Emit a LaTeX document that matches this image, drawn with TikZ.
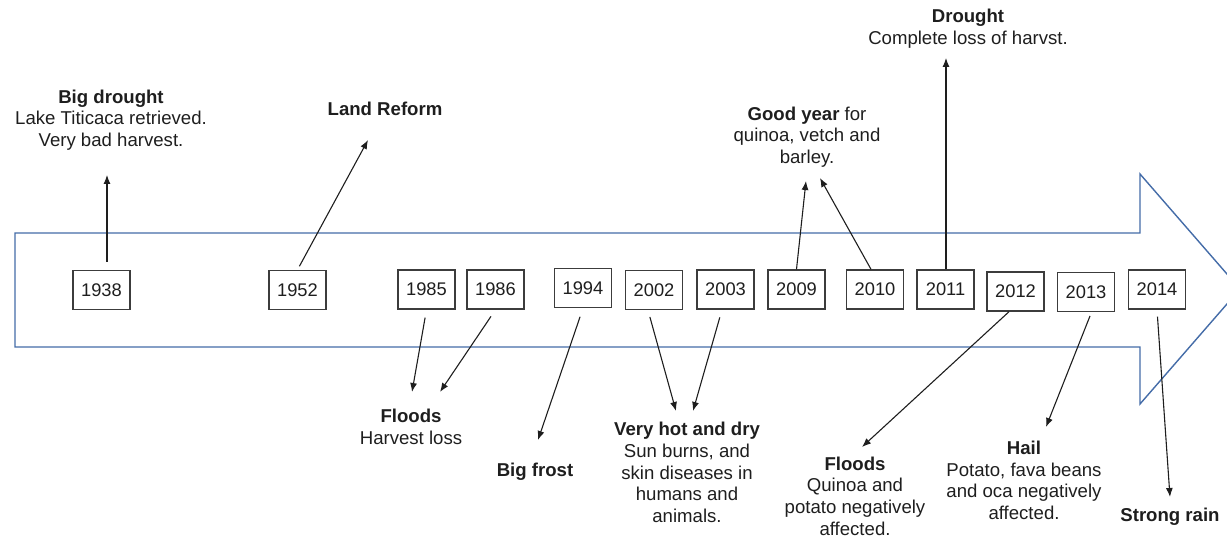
\documentclass[tikz,border=0pt]{standalone}
\usepackage{fontspec}
\setmainfont{Liberation Sans}
\usetikzlibrary{arrows.meta,calc}
\definecolor{tlblue}{RGB}{68,108,168}
\definecolor{ink}{RGB}{30,30,30}
\definecolor{boxline}{RGB}{60,60,60}
\begin{document}
\begin{tikzpicture}[x=1pt,y=-1pt,
  every node/.style={font=\fontsize{18.6}{21.7}\selectfont, text=ink, inner sep=0pt},
  yearbox/.style={draw=boxline, line width=1.4pt, minimum width=57pt, minimum height=39pt, font=\fontsize{18.3}{20}\selectfont},
  label/.style={align=center},
  conn/.style={draw=ink, line width=1.1pt, -{Latex[length=9pt,width=7pt]}},
  bigarrow/.style={draw=tlblue, line width=1.4pt, line join=miter}
]
\useasboundingbox (0,0) rectangle (1227,537);
\clip (0,0) rectangle (1227,537);
% big timeline arrow
\draw[bigarrow] (15,233) -- (1140,233) -- (1140,174) -- (1240,289) -- (1140,404) -- (1140,347) -- (15,347) -- cycle;

% year boxes
\node[yearbox] (y1938) at (101.5,290) {1938};
\node[yearbox] (y1952) at (297.5,290) {1952};
\node[yearbox] (y1985) at (426.5,289.5) {1985};
\node[yearbox] (y1986) at (495.5,289.5) {1986};
\node[yearbox] (y1994) at (583,288) {1994};
\node[yearbox] (y2002) at (654,290) {2002};
\node[yearbox] (y2003) at (725.5,289.5) {2003};
\node[yearbox] (y2009) at (796.5,289.5) {2009};
\node[yearbox] (y2010) at (875,289.5) {2010};
\node[yearbox] (y2011) at (945.5,289.5) {2011};
\node[yearbox] (y2012) at (1015.5,291.5) {2012};
\node[yearbox] (y2013) at (1086,292) {2013};
\node[yearbox] (y2014) at (1157,289.5) {2014};

% labels
\node[label] (bigdrought) at (111,120) {\textbf{Big drought}\\Lake Titicaca retrieved.\\Very bad harvest.};
\node[label] (landreform) at (385,109) {\textbf{Land Reform}};
\node[label] (goodyear) at (807,137) {\textbf{Good year} for\\quinoa, vetch and\\barley.};
\node[label] (drought) at (968,29) {\textbf{Drought}\\Complete loss of harvst.};
\node[label] (floodsa) at (411,427) {\textbf{Floods}\\Harvest loss};
\node[label] (bigfrost) at (535,472) {\textbf{Big frost}};
\node[label] (hotdry) at (687,472.5) {\textbf{Very hot and dry}\\Sun burns, and\\skin diseases in\\humans and\\animals.};
\node[label] (floodsb) at (855,496) {\textbf{Floods}\\Quinoa and\\potato negatively\\affected.};
\node[label] (hail) at (1024,480.5) {\textbf{Hail}\\Potato, fava beans\\and oca negatively\\affected.};
\node[label] (strongrain) at (1170,517) {\textbf{Strong rain}};

% arrow tips
\coordinate (t1938) at (107,175);
\coordinate (t1952) at (368,140);
\coordinate (t1985) at (412,392);
\coordinate (t1986) at (440,392);
\coordinate (t1994) at (538,440);
\coordinate (t2002) at (676,411);
\coordinate (t2003) at (693,411);
\coordinate (t2009) at (806,181);
\coordinate (t2010) at (820,178);
\coordinate (t2011) at (946,58);
\coordinate (t2012) at (862,447);
\coordinate (t2013) at (1046,427);
\coordinate (t2014) at (1170,497);

% connectors
\draw[conn, shorten <=8pt] (y1938.north -| t1938) -- (t1938);
\draw[conn, shorten <=4pt] (y1952.north) -- (t1952);
\draw[conn, shorten <=8pt] (y1985.south) -- (t1985);
\draw[conn, shorten <=8pt] (y1986.south) -- (t1986);
\draw[conn, shorten <=9pt] (y1994.south) -- (t1994);
\draw[conn, shorten <=7pt] ($(y2002.south)+(-6,0)$) -- (t2002);
\draw[conn, shorten <=8pt] ($(y2003.south)+(-3.5,0)$) -- (t2003);
\draw[conn] (y2009.north) -- (t2009);
\draw[conn] ($(y2010.north)+(-4,0)$) -- (t2010);
\draw[conn] (y2011.north -| t2011) -- (t2011);
\draw[conn] ($(y2012.south)+(-6.5,0)$) -- (t2012);
\draw[conn, shorten <=4pt] ($(y2013.south)+(5.5,0)$) -- (t2013);
\draw[conn, shorten <=7pt] (y2014.south) -- (t2014);
\end{tikzpicture}
\end{document}
